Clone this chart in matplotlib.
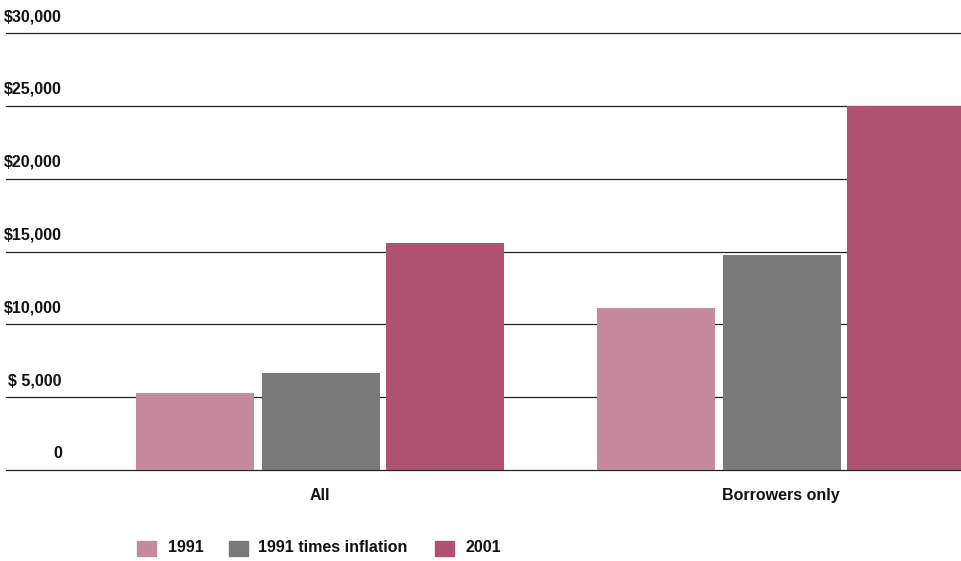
import matplotlib.pyplot as plt
import matplotlib.transforms as mtransforms
from matplotlib.patches import Rectangle
import numpy as np

# average debt
groups = ["All", "Borrowers only"]
series = ["1991", "1991 times inflation", "2001"]
values = {
    "1991": [5270, 11100],
    "1991 times inflation": [6640, 14730],
    "2001": [15550, 25000],
}
colors = ["#C68A9F", "#7A7A7A", "#AF5272"]
yticks = [0, 5000, 10000, 15000, 20000, 25000, 30000]
ylabels = ["0", "$ 5,000", "$10,000", "$15,000", "$20,000", "$25,000", "$30,000"]

plt.rcParams['font.family'] = ['Liberation Sans', 'DejaVu Sans']
FS = 11.5

fig = plt.figure(figsize=(9.61, 5.61), dpi=100)
W, H = 961, 561
ax = fig.add_axes([6 / W, 1 - 470 / H, 955 / W, 437 / H])

x = np.arange(len(groups))
offsets = [-0.271, 0.002, 0.271]
for name, off, c in zip(series, offsets, colors):
    ax.bar(x + off, values[name], width=0.256, color=c, zorder=3)

ax.set_xlim(-0.681, 1.390)
ax.set_ylim(0, 30000)

# gridlines with labels sitting above them
for v, lab in zip(yticks, ylabels):
    ax.axhline(v, color="#222222", lw=0.9, zorder=1, clip_on=False)
    tr = mtransforms.offset_copy(ax.get_yaxis_transform(), fig=fig, x=0, y=12, units='dots')
    ax.text(0.0586, v, lab, transform=tr, ha='right', va='baseline',
            fontsize=FS, fontweight='bold', color='#111111')

ax.set_yticks([])
ax.set_xticks(x, groups, fontsize=FS, fontweight='bold', color='#111111')
ax.tick_params(axis='x', length=0, pad=13)
for s in ax.spines.values():
    s.set_visible(False)

# legend drawn by hand along the bottom
sq_x = [137, 229, 435]
txt_x = [168, 258, 465]
for name, c, sx, tx in zip(series, colors, sq_x, txt_x):
    fig.add_artist(Rectangle((sx / W, 1 - 556 / H), 19 / W, 15 / H,
                             transform=fig.transFigure, color=c))
    fig.text(tx / W, 1 - 548 / H, name, ha='left', va='center',
             fontsize=FS, fontweight='bold', color='#111111')

fig.savefig("out.png", dpi=100)
